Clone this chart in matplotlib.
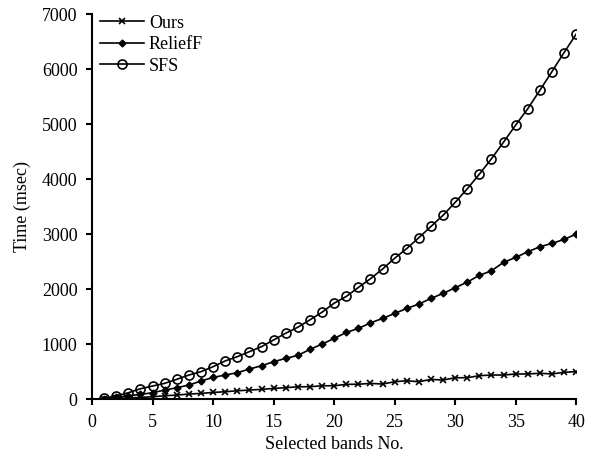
import numpy as np
import matplotlib
matplotlib.use('Agg')
import matplotlib.pyplot as plt

plt.rcParams['font.family'] = ['Liberation Serif', 'DejaVu Serif']
plt.rcParams['font.size'] = 13

bands = np.arange(1, 41)

ours = [5, 12, 20, 30, 42, 60, 73, 91, 103, 121,
        133, 151, 164, 176, 194, 206, 224, 224, 242, 242,
        267, 270, 285, 273, 315, 333, 315, 358, 346, 388,
        388, 425, 437, 437, 456, 456, 470, 456, 487, 498]

relieff = [10, 31, 60, 85, 115, 164, 206, 255, 328, 394,
           437, 479, 546, 606, 679, 740, 794, 903, 1000, 1102,
           1211, 1284, 1385, 1466, 1557, 1648, 1727, 1830, 1921, 2024,
           2127, 2249, 2333, 2485, 2576, 2678, 2769, 2830, 2903, 3000]

sfs = [13, 60, 115, 188, 237, 286, 359, 437, 498, 589,
       693, 771, 862, 953, 1075, 1197, 1306, 1440, 1579, 1743,
       1865, 2029, 2188, 2364, 2560, 2737, 2935, 3138, 3342, 3576,
       3823, 4089, 4369, 4672, 4982, 5280, 5614, 5955, 6301, 6635]

fig = plt.figure(figsize=(5.94, 4.54), dpi=100)
ax = fig.add_axes([0.155, 0.121, 0.815, 0.848])

ax.plot(bands, ours, color='black', lw=1.2, marker='x', ms=4.5, mew=1.2, label='Ours')
ax.plot(bands, relieff, color='black', lw=1.2, marker='D', ms=3.5, label='ReliefF')
ax.plot(bands, sfs, color='black', lw=1.2, marker='o', ms=6.5, mfc='none', mew=1.2, label='SFS')

ax.set_xlim(0, 40)
ax.set_ylim(0, 7000)
ax.set_xticks(range(0, 41, 5))
ax.set_yticks(range(0, 7001, 1000))
ax.set_xlabel('Selected bands No.', labelpad=4)
ax.set_ylabel('Time (msec)', labelpad=8)

for s in ['top', 'right']:
    ax.spines[s].set_visible(False)
for s in ['left', 'bottom']:
    ax.spines[s].set_linewidth(1.5)
ax.tick_params(direction='out', length=4.5, width=1.5)
ax.tick_params(axis='y', pad=6)
ax.tick_params(axis='x', pad=6)

ax.legend(loc='upper left', frameon=False, handlelength=2.4, handletextpad=0.3,
          labelspacing=0.25, borderaxespad=0.0, bbox_to_anchor=(0.002, 1.017))

fig.savefig('out.png', dpi=100)
